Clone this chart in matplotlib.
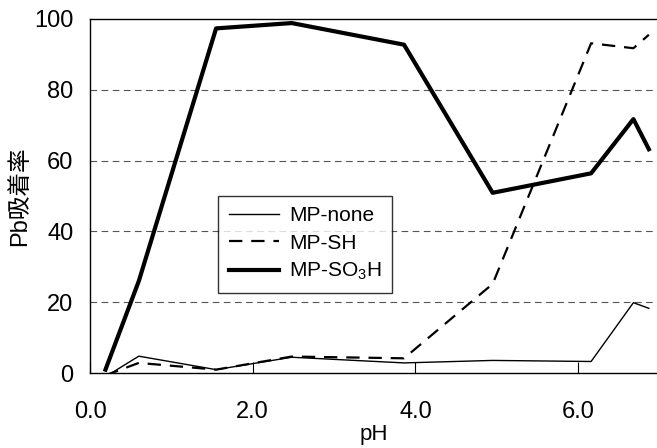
import matplotlib
matplotlib.use("Agg")
import matplotlib.pyplot as plt

plt.rcParams['font.family'] = ['Liberation Sans', 'Noto Sans CJK JP', 'DejaVu Sans']
plt.rcParams['mathtext.fontset'] = 'custom'
plt.rcParams['mathtext.rm'] = 'Liberation Sans'
plt.rcParams['mathtext.it'] = 'Liberation Sans'

ph = [0.19, 0.6, 1.55, 2.48, 3.86, 4.95, 6.16, 6.68, 6.87]
mp_none = [-1.0, 4.8, 1.0, 4.5, 2.9, 3.6, 3.3, 19.9, 18.3]
mp_sh = [-0.6, 2.9, 1.0, 4.7, 4.2, 25.2, 93.1, 91.7, 95.5]
mp_so3h = [1.0, 26.0, 97.3, 98.8, 92.7, 50.9, 56.4, 71.7, 63.2]

xticks = [0.0, 2.0, 4.0, 6.0]
yticks = [0, 20, 40, 60, 80, 100]

fig = plt.figure(figsize=(6.57, 4.48), dpi=100)
ax = fig.add_axes([0.137, 0.167, 0.863, 0.791])

for y in [20, 40, 60, 80]:
    ax.axhline(y, color='#555555', linestyle=(0, (6, 4)), linewidth=0.8, zorder=1)

ax.plot(ph, mp_none, color='black', linewidth=1.0, label='MP-none', zorder=3)
ax.plot(ph, mp_sh, color='black', linewidth=1.6, linestyle=(0, (6, 4)), label='MP-SH', zorder=3)
ax.plot(ph, mp_so3h, color='black', linewidth=3.0, label='MP-SO$_3$H', zorder=3)

ax.set_xlim(0, 6.97)
ax.set_ylim(0, 100)
ax.set_xticks(xticks)
ax.set_xticklabels([f'{t:.1f}' for t in xticks])
ax.set_yticks(yticks)
ax.tick_params(axis='x', direction='in', length=8, width=0.8, labelsize=17, pad=20)
ax.tick_params(axis='y', length=0, labelsize=17, pad=12)
ax.spines['right'].set_visible(False)
for s in ['left', 'top', 'bottom']:
    ax.spines[s].set_linewidth(1.0)

ax.set_xlabel('pH', fontsize=16, labelpad=1)
ax.set_ylabel('Pb吸着率', fontsize=17, labelpad=2)

leg = ax.legend(loc='upper left', bbox_to_anchor=(0.226, 0.5), fontsize=15,
                frameon=True, fancybox=False, borderaxespad=0, handlelength=2.4,
                handletextpad=0.5, labelspacing=0.4, borderpad=0.5)
leg.get_frame().set_edgecolor('black')
leg.get_frame().set_linewidth(1.0)

fig.savefig('out.png', dpi=100)
